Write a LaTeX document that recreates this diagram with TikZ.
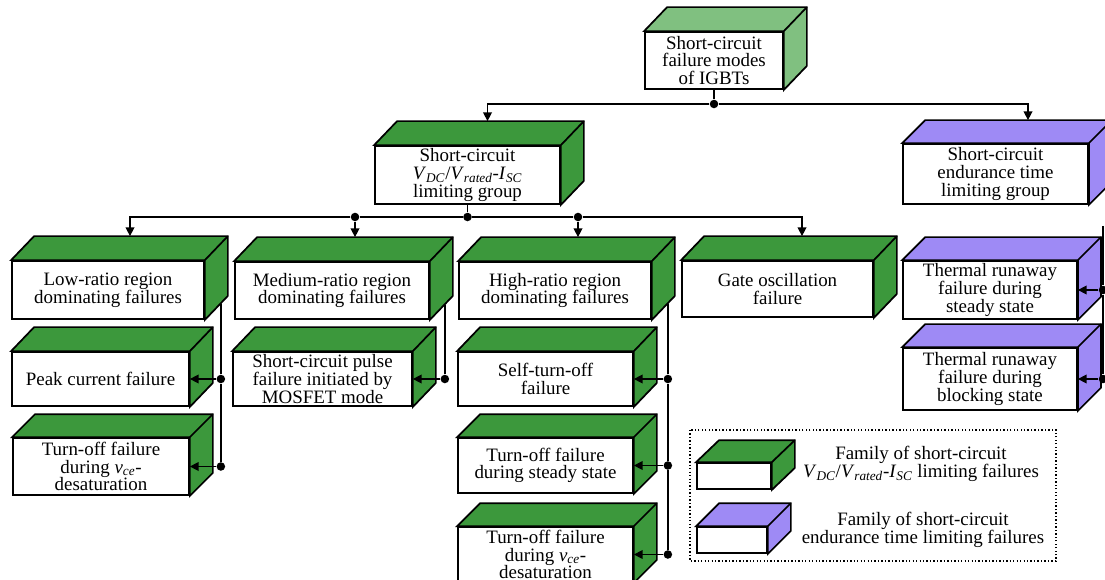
\documentclass[tikz,border=0pt]{standalone}
\usepackage{fontspec}
\setmainfont{Liberation Serif}
\usetikzlibrary{arrows.meta,calc}
\definecolor{cgreen}{RGB}{60,152,60}
\definecolor{clgreen}{RGB}{128,192,128}
\definecolor{cpurple}{RGB}{158,138,245}
\newcommand{\vratio}{\textit{V}\textsubscript{\textit{DC}}/\textit{V}\textsubscript{\textit{rated}}-\textit{I}\textsubscript{\textit{SC}}}
\newcommand{\vce}{\textit{v}\textsubscript{\textit{ce}}}
\tikzset{
  front/.style={draw, fill=white, line width=1.3pt, inner sep=0pt, align=center,
    font=\fontsize{14.2}{13.3}\selectfont},
  face/.style={draw, line width=1.3pt, line join=miter},
  conn/.style={line width=1pt},
  arr/.style={conn, -{Triangle[length=6.5pt,width=6.5pt]}},
  dot/.style={circle, fill=black, inner sep=0pt, minimum size=6.4pt},
  txt/.style={align=center, inner sep=0pt, font=\fontsize{14.2}{13.3}\selectfont},
  legendframe/.style={line width=1pt, dash pattern=on 1pt off 1.6pt}
}
% #1 name, #2 left, #3 top, #4 right, #5 bottom (px), #6 colour, #7 text, #8 depth
\newcommand{\cubebox}[8]{%
  \node[front, minimum width={(#4-#2)*0.75pt}, minimum height={(#5-#3)*0.75pt}]
    (#1) at ({(#2+#4)/2},{(#3+#5)/2}) {#7};
  \draw[face, fill=#6] (#1.north west) -- ++(23,-#8) -- ($(#1.north east)+(23,-#8)$)
    -- ($(#1.south east)+(23,-#8)$) -- (#1.south east) -- (#1.north east) -- cycle;
  \draw[face] (#1.north east) -- ++(23,-#8);
}
\begin{document}
\begin{tikzpicture}[x=0.75pt,y=-0.75pt]
\useasboundingbox (0,0) rectangle (1105,580);
\clip (0,0) rectangle (1105,580);
\fill[white] (0,0) rectangle (1105,580);

% boxes
\cubebox{top}{645}{32}{783}{89}{clgreen}{Short-circuit\\failure modes\\of IGBTs}{24}
\cubebox{g2}{375}{146}{560}{204}{cgreen}{Short-circuit\\\vratio\\limiting group}{24}
\cubebox{g1}{903}{144}{1088}{204}{cpurple}{Short-circuit\\endurance time\\limiting group}{23}
\cubebox{low}{12}{261}{204}{319}{cgreen}{Low-ratio region\\dominating failures}{24}
\cubebox{med}{235}{262}{429}{319}{cgreen}{Medium-ratio region\\dominating failures}{24}
\cubebox{high}{459}{262}{651}{319}{cgreen}{High-ratio region\\dominating failures}{24}
\cubebox{gate}{682}{261}{873}{317}{cgreen}{Gate oscillation\\failure}{24}
\cubebox{peak}{12}{352}{189}{406}{cgreen}{Peak current failure}{24}
\cubebox{toffa}{13}{438}{189}{495}{cgreen}{Turn-off failure\\during \vce-\\desaturation}{23}
\cubebox{pulse}{233}{352}{412}{406}{cgreen}{Short-circuit pulse\\failure initiated by\\MOSFET mode}{24}
\cubebox{self}{458}{352}{633}{406}{cgreen}{Self-turn-off\\failure}{24}
\cubebox{steady}{458}{438}{633}{493}{cgreen}{Turn-off failure\\during steady state}{23}
\cubebox{toffb}{458}{527}{633}{582}{cgreen}{Turn-off failure\\during \vce-\\desaturation}{23}
\cubebox{therma}{903}{261}{1077}{319}{cpurple}{Thermal runaway\\failure during\\steady state}{23}
\cubebox{thermb}{903}{348}{1077}{410}{cpurple}{Thermal runaway\\failure during\\blocking state}{23}

% level 1
\node[dot] (d0) at (714,104) {};
\draw[conn] (top) -- (d0);
\draw[arr] (d0) -| ($(g2.north)+(20,-24)$);
\draw[arr] (d0) -| ($(g1.north)+(32.5,-23)$);

% level 2
\node[dot] (d1) at (467.5,217) {};
\node[dot] (d1a) at (355,217) {};
\node[dot] (d1b) at (578,217) {};
\draw[conn] (g2) -- (d1);
\draw[conn] (d1a) -- (d1) -- (d1b);
\draw[arr] (d1a) -| ($(low.north)+(22,-24)$);
\draw[arr] (d1a) -- ($(d1a |- med.north)+(0,-24)$);
\draw[arr] (d1b) -- ($(d1b |- high.north)+(0,-24)$);
\draw[arr] (d1b) -| ($(gate.north)+(24.5,-24)$);

% low-ratio group
\coordinate (lowout) at ($(low.south east)+(16,-16)$);
\node[dot] (d2a) at (lowout |- peak.east) {};
\node[dot] (d2b) at (lowout |- toffa.east) {};
\draw[conn] (lowout) -- (d2a) -- (d2b);
\draw[arr] (d2a) -- (peak.east);
\draw[arr] (d2b) -- (toffa.east);

% medium-ratio group
\coordinate (medout) at ($(med.south east)+(15,-15)$);
\node[dot] (d3) at (medout |- pulse.east) {};
\draw[conn] (medout) -- (d3);
\draw[arr] (d3) -- (pulse.east);

% high-ratio group
\coordinate (highout) at ($(high.south east)+(16,-16)$);
\node[dot] (d4a) at (highout |- self.east) {};
\node[dot] (d4b) at (highout |- steady.east) {};
\node[dot] (d4c) at (highout |- toffb.east) {};
\draw[conn] (highout) -- (d4a) -- (d4b) -- (d4c);
\draw[arr] (d4a) -- (self.east);
\draw[arr] (d4b) -- (steady.east);
\draw[arr] (d4c) -- (toffb.east);

% endurance group
\coordinate (endout) at (1103,226);
\node[dot] (d5a) at (endout |- therma.east) {};
\node[dot] (d5b) at (endout |- thermb.east) {};
\draw[conn] (endout) -- (d5a) -- (d5b);
\draw[arr] (d5a) -- (therma.east);
\draw[arr] (d5b) -- (thermb.east);

% legend
\draw[legendframe] (690,430) rectangle (1056,561);
\cubebox{lega}{697}{463}{771}{489}{cgreen}{}{22}
\cubebox{legb}{697}{527}{767}{553}{cpurple}{}{23}
\node[txt] (legat) at (921,464) {Family of short-circuit\\\vratio{} limiting failures};
\node[txt] (legbt) at (923,530) {Family of short-circuit\\endurance time limiting failures};
\end{tikzpicture}
\end{document}
